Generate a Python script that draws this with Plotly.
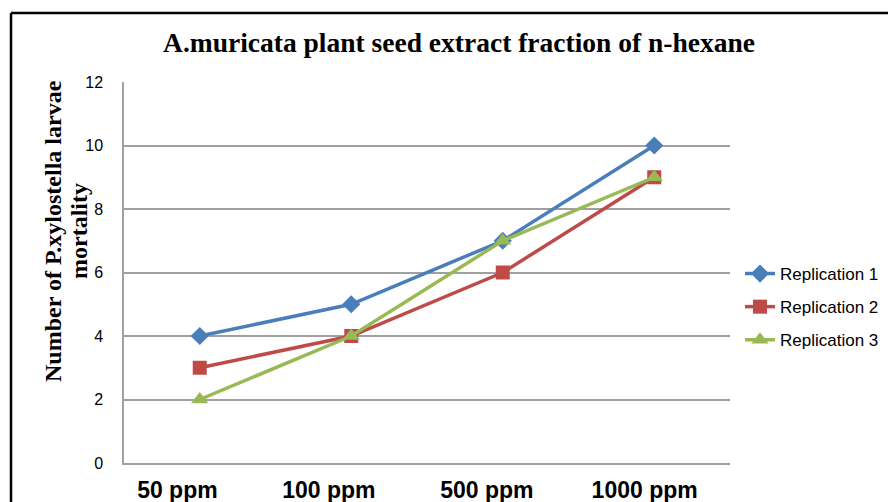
import plotly.graph_objects as go

categories = ["50 ppm", "100 ppm", "500 ppm", "1000 ppm"]
rep1 = [4, 5, 7, 10]
rep2 = [3, 4, 6, 9]
rep3 = [2, 4, 7, 9]
series_names = ["Replication 1", "Replication 2", "Replication 3"]
y_ticks = [0, 2, 4, 6, 8, 10, 12]
label_pad = [7, 7, 5, 3]  # trailing spaces: labels sit left of their points in the original
y_title_lines = ["Number of P.xylostella larvae", "mortality"]

OFF = 8  # default page body margin
W, H = 896 - OFF, 502 - OFF
L, T = 124 - OFF, 82 - OFF
pw, ph = 606, 381
R, B = W - L - pw, H - T - ph


def px_x(x):
    return (x - OFF - L) / pw


def px_y(y):
    return (T + ph - (y - OFF)) / ph


fig = go.Figure()
fig.add_trace(go.Scatter(x=categories, y=rep1, name=series_names[0], mode="lines+markers",
                         legendgroup="a",
                         line=dict(color="#4A7EBB", width=3.5),
                         marker=dict(symbol="diamond", size=14, color="#4A7EBB")))
fig.add_trace(go.Scatter(x=categories, y=rep2, name=series_names[1], mode="lines+markers",
                         legendgroup="b",
                         line=dict(color="#BE4B48", width=3.5),
                         marker=dict(symbol="square", size=14, color="#BE4B48")))
fig.add_trace(go.Scatter(x=categories, y=rep3, name=series_names[2], mode="lines+markers",
                         legendgroup="c",
                         line=dict(color="#98B954", width=3.5),
                         marker=dict(symbol="triangle-up", size=15, color="#98B954")))

fig.update_layout(
    width=W, height=H,
    margin=dict(l=L, r=R, t=T, b=B),
    paper_bgcolor="white", plot_bgcolor="white",
    title=dict(text="<b>A.muricata plant seed extract fraction of n-hexane</b>",
               x=(459 - OFF) / W, xanchor="center", y=1 - (42 - OFF) / H, yanchor="middle",
               font=dict(family="Liberation Serif", size=27.5, color="black")),
    xaxis=dict(type="category", range=[-0.5, 3.5], showgrid=False, automargin=False,
               tickvals=categories,
               ticktext=[c + "\u00a0" * n for c, n in zip(categories, label_pad)],
               showline=True, linecolor="#A0A0A0", linewidth=1.5,
               ticks="", ticklabelstandoff=6,
               tickfont=dict(family="Liberation Sans", size=23, color="black", weight="bold")),
    yaxis=dict(range=[0, 12], tickvals=y_ticks, showgrid=True, gridcolor="#A0A0A0", gridwidth=1.5,
               showline=True, linecolor="#A0A0A0", linewidth=1.5, zeroline=False,
               automargin=False, ticks="", ticklabelstandoff=16,
               tickfont=dict(family="Liberation Sans", size=16, color="black")),
    legend=dict(x=px_x(740), xanchor="left", y=px_y(307),
                yanchor="middle", tracegroupgap=8,
                font=dict(family="Liberation Sans", size=17, color="black"),
                bgcolor="rgba(0,0,0,0)"),
    showlegend=True,
    annotations=[
        dict(text="<b>" + y_title_lines[0] + "</b>",
             xref="paper", yref="paper", x=px_x(53), y=px_y(231),
             xanchor="center", yanchor="middle", textangle=-90, showarrow=False,
             font=dict(family="Liberation Serif", size=24, color="black")),
        dict(text="<b>" + y_title_lines[1] + "</b>",
             xref="paper", yref="paper", x=px_x(79), y=px_y(231),
             xanchor="center", yanchor="middle", textangle=-90, showarrow=False,
             font=dict(family="Liberation Serif", size=24, color="black")),
    ],
    shapes=[
        dict(type="line", xref="paper", yref="paper",
             x0=px_x(11), x1=px_x(11), y0=px_y(13), y1=-0.3,
             line=dict(color="black", width=2.5)),
        dict(type="line", xref="paper", yref="paper",
             x0=px_x(11), x1=1.5, y0=px_y(13), y1=px_y(13),
             line=dict(color="black", width=2.5)),
    ],
)

fig.write_html("out.html")
